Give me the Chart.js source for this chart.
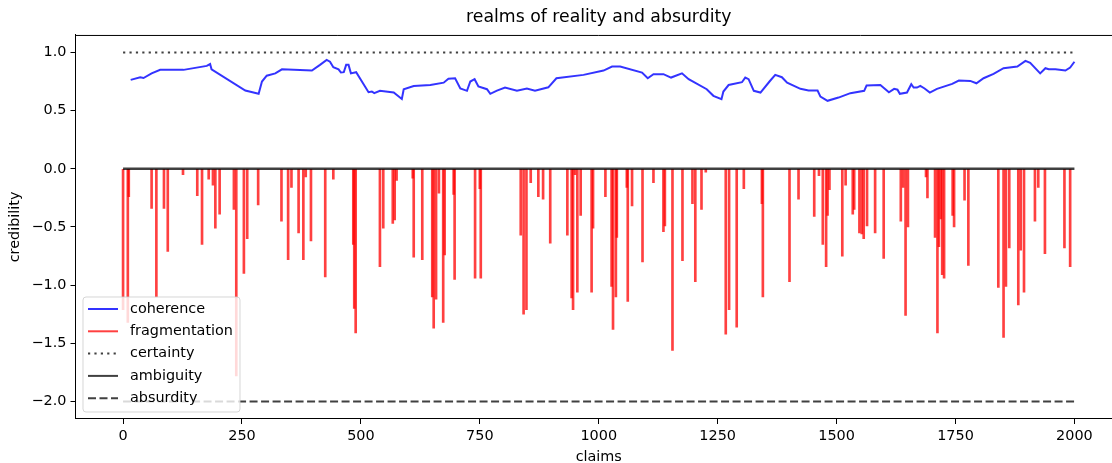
<!DOCTYPE html>
<html>
<head>
<meta charset="utf-8">
<script src="https://cdn.jsdelivr.net/npm/chart.js@4.4.1/dist/chart.umd.min.js"></script>
<style>
  html, body { margin: 0; padding: 0; background: #fff; overflow: hidden; }
  #wrap { width: 1128px; height: 463px; }
</style>
</head>
<body>
<div id="wrap"><canvas id="chart" width="1128" height="463"></canvas></div>
<script>
// coherence curve
const coherenceX = [16, 36, 43, 60, 78, 127, 176, 183, 186, 257, 285, 292, 302, 320, 334, 397, 414, 428, 435, 442,
  453, 458, 464, 469, 474, 479, 490, 516, 523, 528, 540, 569, 586, 590, 611, 646, 674, 684, 698, 709,
  723, 730, 739, 747, 765, 772, 786, 803, 828, 849, 866, 894, 911, 968, 1010, 1028, 1045, 1091, 1103, 1115,
  1136, 1152, 1175, 1189, 1227, 1241, 1258, 1262, 1273, 1301, 1308, 1315, 1326, 1340, 1359, 1371, 1385, 1396, 1424, 1441,
  1460, 1466, 1481, 1504, 1529, 1558, 1563, 1592, 1610, 1621, 1628, 1633, 1648, 1657, 1662, 1669, 1676, 1685, 1696, 1711,
  1743, 1757, 1781, 1794, 1809, 1830, 1851, 1880, 1897, 1907, 1928, 1939, 1946, 1960, 1981, 1991, 2000];
const coherenceY = [0.764, 0.787, 0.78, 0.82, 0.85, 0.85, 0.884, 0.90, 0.855, 0.672, 0.644, 0.75, 0.80, 0.82, 0.855, 0.844, 0.893, 0.936, 0.92, 0.873,
  0.855, 0.827, 0.83, 0.893, 0.893, 0.82, 0.83, 0.658, 0.664, 0.65, 0.67, 0.655, 0.60, 0.684, 0.712, 0.72, 0.74, 0.773, 0.778, 0.69,
  0.67, 0.75, 0.77, 0.707, 0.684, 0.644, 0.672, 0.698, 0.67, 0.69, 0.67, 0.70, 0.778, 0.807, 0.844, 0.878, 0.878, 0.827, 0.778, 0.813,
  0.813, 0.784, 0.82, 0.77, 0.684, 0.627, 0.598, 0.664, 0.72, 0.744, 0.784, 0.77, 0.67, 0.655, 0.75, 0.807, 0.787, 0.74, 0.687, 0.672,
  0.672, 0.62, 0.584, 0.612, 0.65, 0.67, 0.715, 0.72, 0.658, 0.687, 0.68, 0.644, 0.655, 0.727, 0.698, 0.698, 0.712, 0.69, 0.655, 0.687,
  0.73, 0.758, 0.755, 0.735, 0.778, 0.815, 0.864, 0.878, 0.927, 0.91, 0.82, 0.864, 0.855, 0.855, 0.844, 0.87, 0.92];

// fragmentation spikes
const fragX = [0, 10, 12, 60, 70, 86, 94, 126, 156, 166, 180, 189, 194, 203, 233, 238, 254, 261, 284, 333,
  347, 354, 369, 379, 384, 395, 425, 442, 484, 486, 489, 540, 547, 567, 571, 575, 609, 611, 629, 650,
  653, 658, 664, 673, 676, 695, 697, 740, 750, 752, 836, 842, 848, 857, 873, 883, 898, 934, 943, 946,
  950, 955, 962, 985, 988, 1014, 1027, 1030, 1036, 1038, 1059, 1061, 1070, 1092, 1115, 1136, 1139, 1155, 1176, 1197,
  1203, 1216, 1225, 1267, 1274, 1290, 1305, 1343, 1345, 1401, 1420, 1453, 1463, 1471, 1478, 1481, 1485, 1512, 1519, 1534,
  1537, 1548, 1553, 1557, 1564, 1581, 1599, 1635, 1640, 1645, 1650, 1688, 1691, 1707, 1712, 1715, 1719, 1722, 1726, 1744,
  1747, 1769, 1777, 1840, 1851, 1856, 1863, 1882, 1887, 1894, 1917, 1924, 1938, 1979, 1991];
const fragY = [-1.21, -1.32, -0.24, -0.34, -1.10, -0.34, -0.71, -0.05, -0.23, -0.65, -0.09, -0.14, -0.51, -0.39, -0.35, -1.78, -0.90, -0.60, -0.31, -0.45,
  -0.78, -0.16, -0.55, -0.78, -0.07, -0.62, -0.93, -0.09, -0.65, -1.20, -1.41, -0.84, -0.51, -0.47, -0.44, -0.10, -0.08, -0.76, -0.78, -1.10,
  -1.37, -1.12, -0.21, -1.32, -0.74, -0.22, -0.95, -0.94, -0.17, -0.94, -0.57, -1.25, -1.21, -0.12, -0.24, -0.26, -0.64, -0.57, -1.11, -1.21,
  -0.05, -1.06, -0.40, -1.06, -0.51, -0.24, -1.01, -1.38, -1.10, -0.59, -0.16, -1.14, -0.32, -0.80, -0.12, -0.54, -0.49, -1.56, -0.79, -0.30,
  -0.97, -0.35, -0.03, -1.42, -1.21, -1.36, -0.17, -0.30, -1.10, -0.97, -0.26, -0.41, -0.06, -0.65, -0.84, -0.40, -0.18, -0.75, -0.14, -0.39,
  -0.35, -0.55, -0.56, -0.60, -0.49, -0.55, -0.77, -0.45, -0.16, -1.26, -0.50, -0.07, -0.25, -0.59, -1.41, -0.67, -0.43, -0.91, -0.94, -0.40,
  -0.50, -0.27, -0.83, -1.02, -1.45, -1.01, -0.68, -1.17, -0.70, -1.06, -0.45, -0.16, -0.73, -0.68, -0.84];

// reference levels
const levelNames = ['certainty', 'ambiguity', 'absurdity'];
const levelValues = [1, 0, -2];
const levelSpan = [0, 2000];

const xTicks = [0, 250, 500, 750, 1000, 1250, 1500, 1750, 2000];
const yTicks = [-2, -1.5, -1, -0.5, 0, 0.5, 1];

const FONT = 'DejaVu Sans';
const TXT = 14.4;
Chart.defaults.font.family = FONT;
Chart.defaults.color = '#000';

function levelLine(i, color, width, dash) {
  return {
    type: 'line',
    label: levelNames[i],
    data: levelSpan.map(x => ({ x: x, y: levelValues[i] })),
    borderColor: color,
    borderWidth: width,
    borderDash: dash,
    borderCapStyle: 'butt',
    pointRadius: 0,
    fill: false,
    order: i === 1 ? 0 : 1
  };
}

// top/right spines + matplotlib-like legend box
const frameAndLegend = {
  id: 'frameAndLegend',
  afterDatasetsDraw(chart) {
    const ctx = chart.ctx;
    const ca = chart.chartArea;
    ctx.save();
    ctx.strokeStyle = '#000';
    ctx.lineWidth = 1;
    ctx.beginPath();
    ctx.moveTo(ca.left, ca.top + 0.5);
    ctx.lineTo(ca.right, ca.top + 0.5);
    ctx.lineTo(ca.right, ca.bottom);
    ctx.stroke();

    const bx = ca.left + 7.5, by = ca.bottom - 122, bw = 157, bh = 115, r = 3;
    ctx.beginPath();
    ctx.moveTo(bx + r, by);
    ctx.arcTo(bx + bw, by, bx + bw, by + bh, r);
    ctx.arcTo(bx + bw, by + bh, bx, by + bh, r);
    ctx.arcTo(bx, by + bh, bx, by, r);
    ctx.arcTo(bx, by, bx + bw, by, r);
    ctx.closePath();
    ctx.fillStyle = 'rgba(255,255,255,0.8)';
    ctx.fill();
    ctx.strokeStyle = 'rgba(204,204,204,0.8)';
    ctx.stroke();

    ctx.font = TXT + 'px "' + FONT + '"';
    ctx.textBaseline = 'middle';
    chart.data.datasets.forEach((ds, i) => {
      const y = by + 12 + i * 22.3;
      ctx.beginPath();
      ctx.setLineDash(ds.borderDash || []);
      ctx.lineCap = 'butt';
      ctx.strokeStyle = ds.type === 'bar' ? ds.backgroundColor : ds.borderColor;
      ctx.lineWidth = 2;
      ctx.moveTo(bx + 5, y);
      ctx.lineTo(bx + 35, y);
      ctx.stroke();
      ctx.setLineDash([]);
      ctx.fillStyle = '#000';
      ctx.fillText(ds.label, bx + 47, y);
    });
    ctx.restore();
  }
};

new Chart(document.getElementById('chart'), {
  type: 'line',
  data: {
    datasets: [
      {
        type: 'line',
        label: 'coherence',
        data: coherenceX.map((x, i) => ({ x: x, y: coherenceY[i] })),
        borderColor: 'rgba(0,0,255,0.8)',
        borderWidth: 2,
        pointRadius: 0,
        tension: 0,
        fill: false,
        order: 2
      },
      {
        type: 'bar',
        label: 'fragmentation',
        data: fragX.map((x, i) => ({ x: x, y: fragY[i] })),
        backgroundColor: 'rgba(255,0,0,0.75)',
        borderWidth: 0,
        barThickness: 2,
        grouped: false,
        order: 3
      },
      levelLine(0, 'rgba(0,0,0,0.75)', 2, [2.2, 4.2]),
      levelLine(1, 'rgba(0,0,0,0.75)', 2.5, []),
      levelLine(2, 'rgba(0,0,0,0.75)', 2, [8, 3.5])
    ]
  },
  options: {
    responsive: false,
    animation: false,
    devicePixelRatio: 1,
    layout: { padding: { left: 0, right: 6, top: 0, bottom: 0 } },
    plugins: {
      legend: { display: false },
      tooltip: { enabled: false },
      title: {
        display: true,
        fullSize: false,
        text: 'realms of reality and absurdity',
        font: { size: 17.3, weight: 'normal' },
        color: '#000',
        padding: { top: 7.5, bottom: 6.7 }
      }
    },
    scales: {
      x: {
        type: 'linear',
        min: -100,
        max: 2100,
        offset: false,
        afterBuildTicks: axis => { axis.ticks = xTicks.map(v => ({ value: v })); },
        afterFit: s => { s.height = 44; },
        grid: { drawOnChartArea: false, drawTicks: true, tickLength: 5, color: '#000', offset: false },
        border: { display: true, color: '#000', width: 1 },
        ticks: { font: { size: TXT }, color: '#000', padding: 4, maxRotation: 0, autoSkip: false, callback: v => String(v) },
        title: { display: true, text: 'claims', font: { size: TXT }, color: '#000', padding: { top: 0, bottom: -2.6 } }
      },
      y: {
        type: 'linear',
        min: -2.15,
        max: 1.15,
        afterBuildTicks: axis => { axis.ticks = yTicks.map(v => ({ value: v })); },
        afterFit: s => { s.width = 75.5; },
        grid: { drawOnChartArea: false, drawTicks: true, tickLength: 5, color: '#000' },
        border: { display: true, color: '#000', width: 1 },
        ticks: {
          font: { size: TXT },
          color: '#000',
          padding: 4,
          callback: v => v.toFixed(1).replace('-', '\u2212')
        },
        title: { display: true, text: 'credibility', font: { size: TXT }, color: '#000', padding: { top: 6.5, bottom: 0 } }
      }
    }
  },
  plugins: [frameAndLegend]
});
</script>
</body>
</html>
